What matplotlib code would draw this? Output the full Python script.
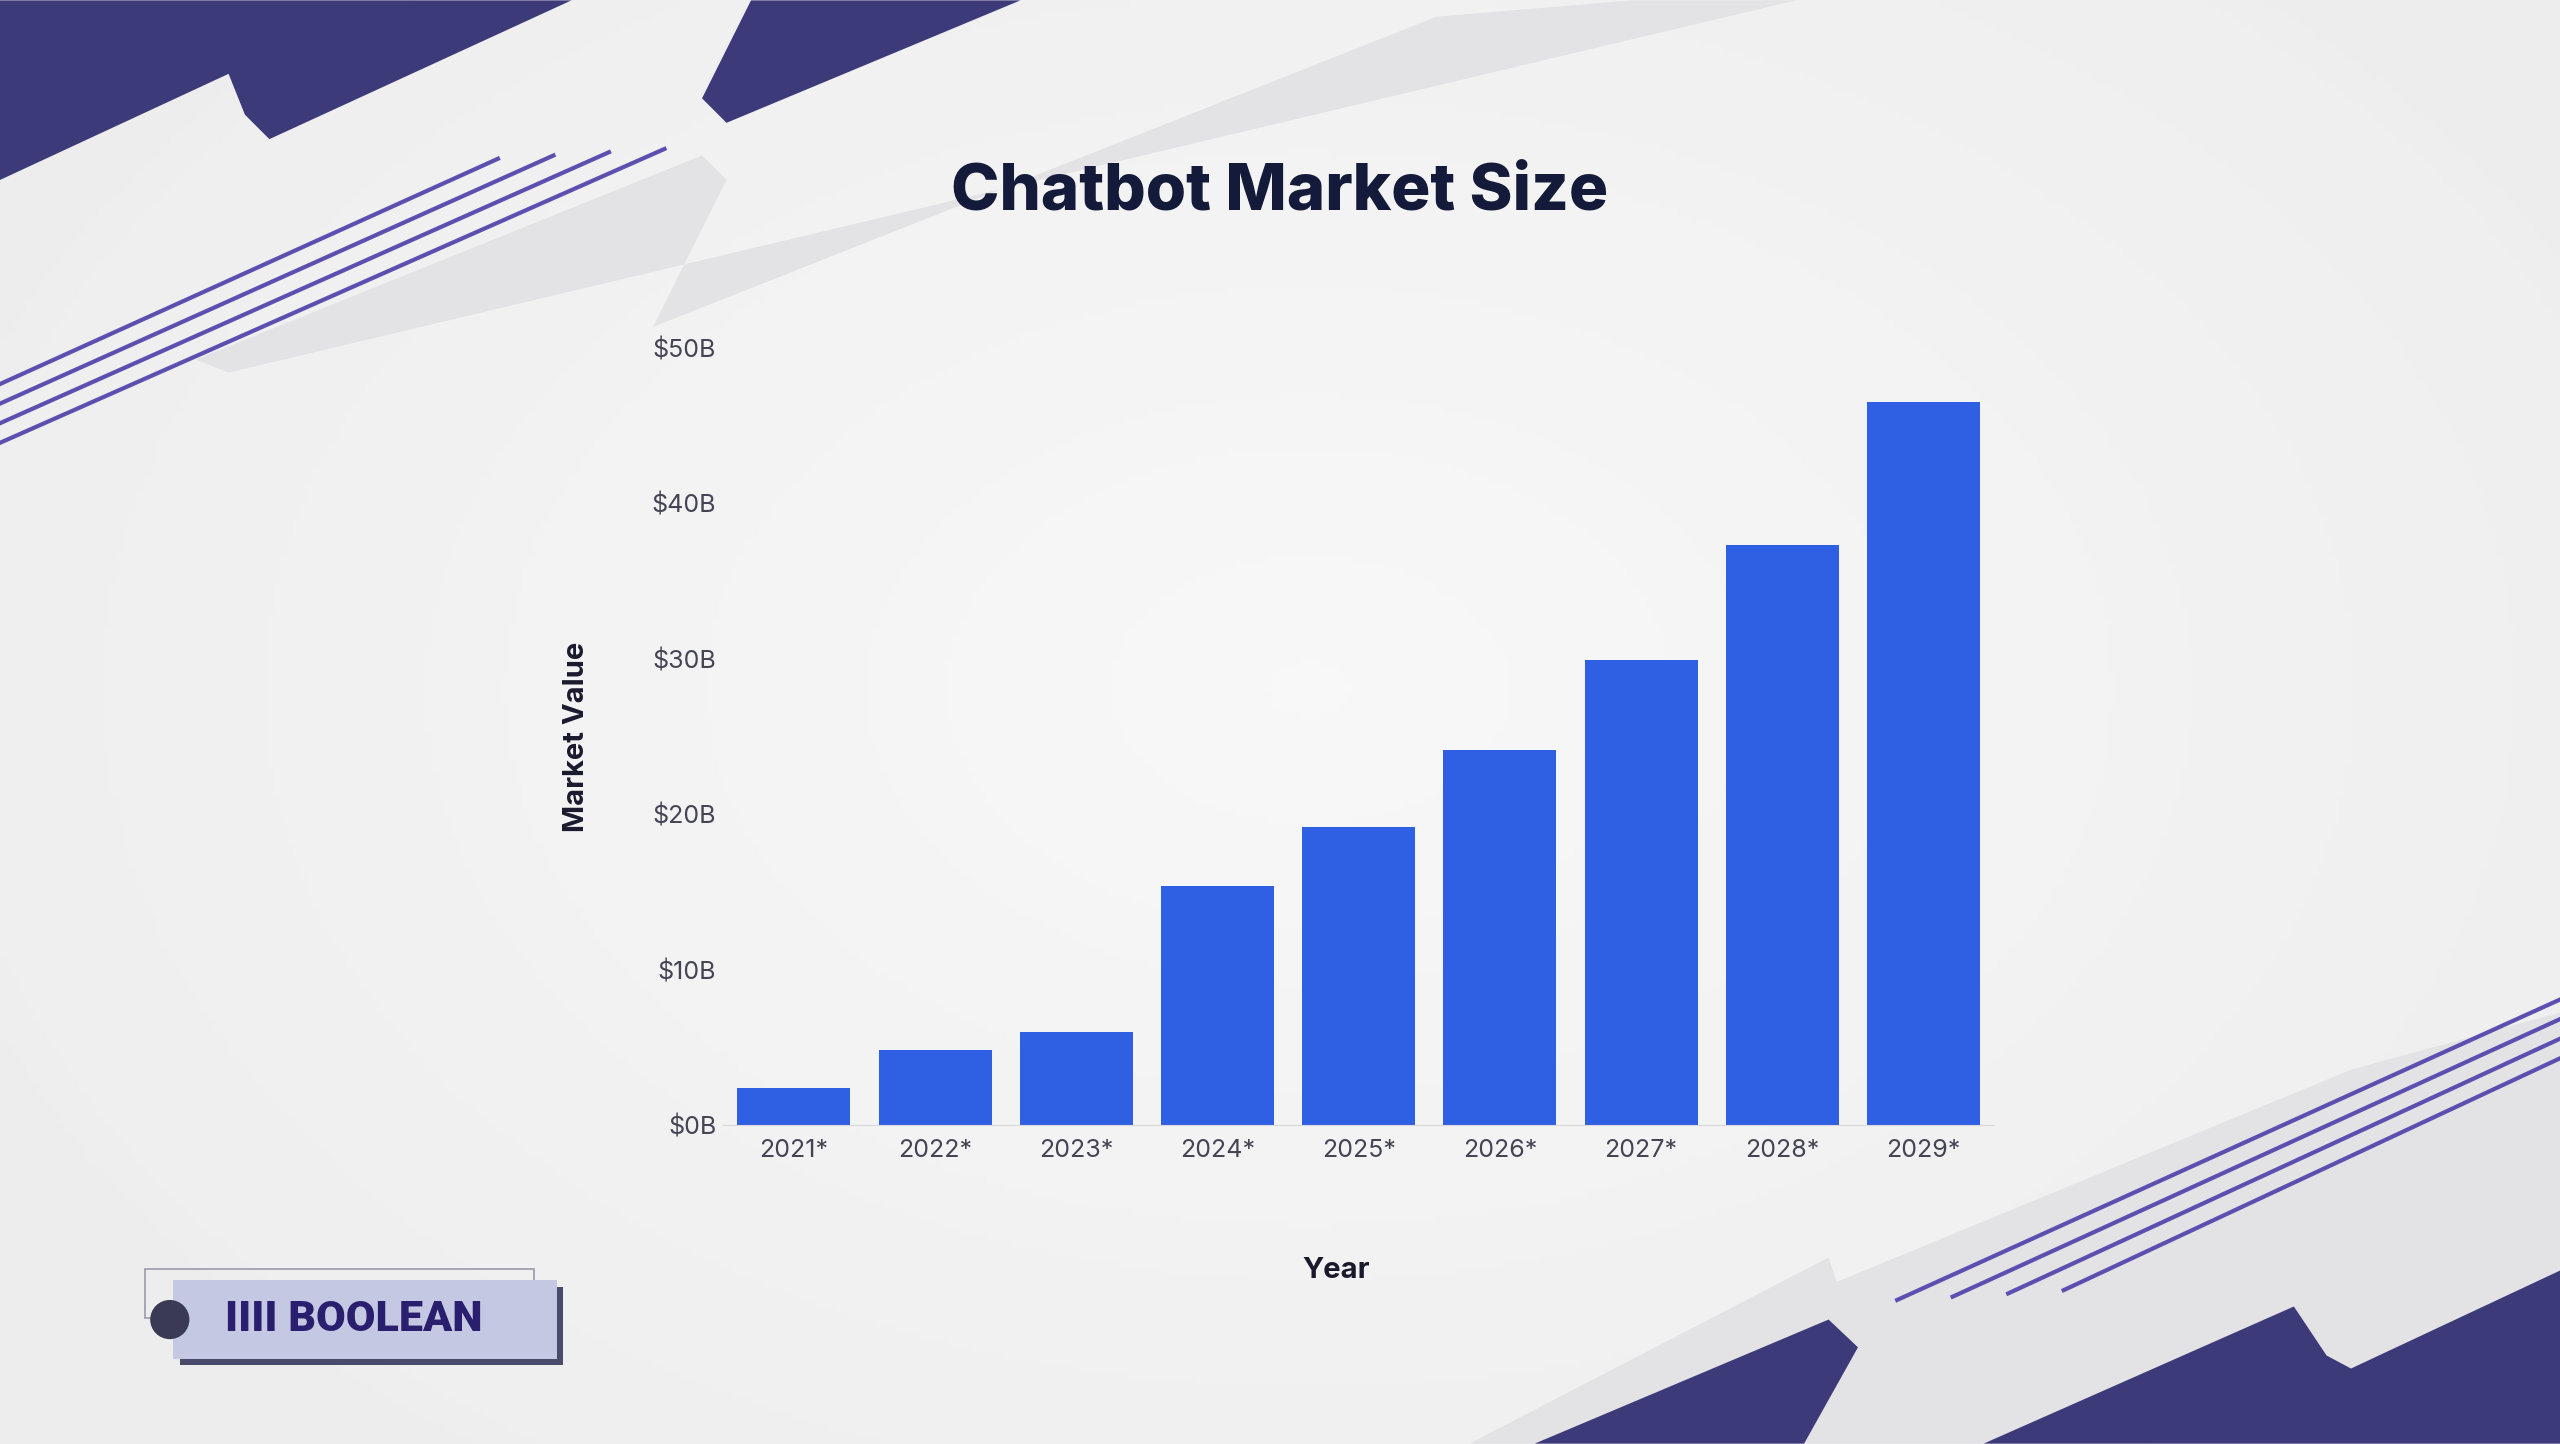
import matplotlib
matplotlib.use("Agg")
import matplotlib.pyplot as plt
from matplotlib.patches import Polygon, Rectangle, Circle
import numpy as np

years = ["2021*", "2022*", "2023*", "2024*", "2025*", "2026*", "2027*", "2028*", "2029*"]
values = [2.4, 4.8, 6.0, 15.4, 19.2, 24.1, 29.9, 37.3, 46.5]
yticks = [0, 10, 20, 30, 40, 50]
ytick_labels = ["$0B", "$10B", "$20B", "$30B", "$40B", "$50B"]

W, H = 1568, 884
fig = plt.figure(figsize=(25.6, 14.44), dpi=100)
fig.patch.set_facecolor("#efeff0")
bg = fig.add_axes([0, 0, 1, 1], zorder=0)
bg.set_xlim(0, W); bg.set_ylim(H, 0); bg.axis("off")

yy, xx = np.mgrid[0:H:4, 0:W:4]
r = np.sqrt(((xx - 800) / 900) ** 2 + ((yy - 420) / 600) ** 2)
bg.imshow(np.clip(1 - r, 0, 1), extent=[0, W, H, 0], cmap="Greys_r", vmin=-6, vmax=1, alpha=0.6, zorder=0)

dark = "#3d3a7a"
light = "#e3e3e5"
def poly(pts, c, z=1):
    bg.add_patch(Polygon(pts, closed=True, fc=c, ec="none", zorder=z))
poly([(120, 220), (430, 95), (445, 110), (400, 200), (880, 10), (1000, 0), (1100, 0), (140, 228)], light)
poly([(1125, 785), (1440, 655), (1568, 620), (1568, 884), (900, 884), (1120, 770)], light)
poly([(0, 0), (350, 0), (165, 85), (150, 70), (140, 45), (0, 110)], dark, 2)
poly([(460, 0), (625, 0), (445, 75), (430, 60)], dark, 2)
poly([(940, 884), (1120, 808), (1138, 825), (1105, 884)], dark, 2)
poly([(1215, 884), (1405, 800), (1425, 830), (1440, 838), (1568, 778), (1568, 884)], dark, 2)
for i in range(4):
    bg.plot([0, 305 + 34 * i], [235 + 12 * i, 97 - 2 * i], color="#5b4fb0", lw=3, zorder=3)
    bg.plot([1162 + 34 * i, 1568], [796 - 2 * i, 612 + 12 * i], color="#5b4fb0", lw=3, zorder=3)

bg.add_patch(Rectangle((89, 777), 238, 30, fc="none", ec="#9999aa", lw=1.2, zorder=4))
bg.add_patch(Rectangle((110, 788), 235, 48, fc="#4a4a6a", ec="none", zorder=4))
bg.add_patch(Rectangle((106, 784), 235, 48, fc="#c5c8e2", ec="none", zorder=5))
bg.add_patch(Circle((104, 808), 12, fc="#3a3a55", zorder=6))
bg.text(138, 808, "IIII BOOLEAN", fontsize=31, fontweight="heavy", color="#2a1f6e",
        va="center", ha="left", family="Roboto", zorder=6)

ax = fig.add_axes([0.2825, 0.221, 0.4965, 0.538], zorder=2)
ax.patch.set_alpha(0)
x = np.arange(len(years))
ax.bar(x, values, width=0.8, color="#2f60e4")
ax.set_xlim(-0.5, len(years) - 0.5)
ax.set_ylim(0, 50)
ax.set_yticks(yticks)
ax.set_yticklabels(ytick_labels)
ax.set_xticks(x)
ax.set_xticklabels(years)
for s in ["top", "right", "left"]:
    ax.spines[s].set_visible(False)
ax.spines["bottom"].set_color("#d8d8dc")
ax.tick_params(length=0, labelsize=18, colors="#444455", pad=10)
ax.tick_params(axis="y", pad=5)
for t in ax.get_xticklabels() + ax.get_yticklabels():
    t.set_family("Inter")
ax.set_ylabel("Market Value", fontsize=21, fontweight="bold", color="#1a1a2e", family="Inter")
ax.set_xlabel("Year", fontsize=21, fontweight="bold", color="#1a1a2e", family="Inter")
ax.yaxis.set_label_coords(-0.105, 0.5)
ax.xaxis.set_label_coords(0.482, -0.17)

fig.text(0.5, 0.867, "Chatbot Market Size", ha="center", va="center", fontsize=47,
         fontweight="heavy", color="#141a3a", family="Inter")
fig.savefig("out.png", dpi=100)
